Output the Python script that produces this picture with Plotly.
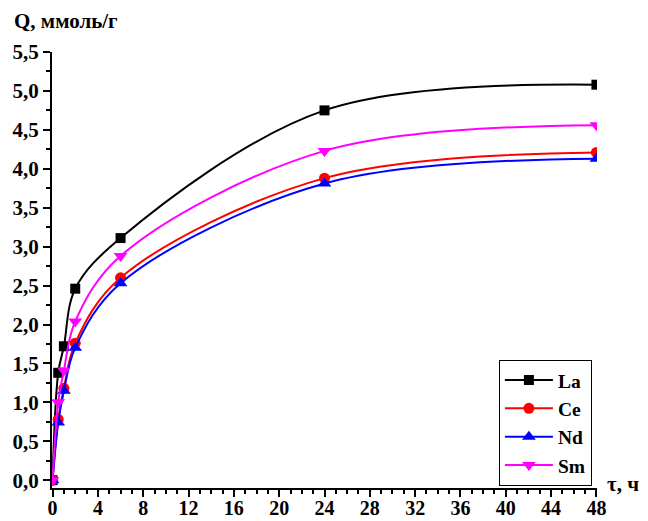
import plotly.graph_objects as go

t = [0, 0.5, 1, 2, 6, 24, 48]
la = [0.0, 1.38, 1.72, 2.46, 3.11, 4.75, 5.08]
ce = [0.0, 0.78, 1.18, 1.76, 2.60, 3.88, 4.21]
nd = [0.0, 0.74, 1.15, 1.70, 2.53, 3.81, 4.13]
sm = [0.0, 1.00, 1.41, 2.04, 2.88, 4.23, 4.56]

x_tickvals = [0, 4, 8, 12, 16, 20, 24, 28, 32, 36, 40, 44, 48]
x_ticktext = ["0", "4", "8", "12", "16", "20", "24", "28", "32", "36", "40", "44", "48"]
y_tickvals = [0.0, 0.5, 1.0, 1.5, 2.0, 2.5, 3.0, 3.5, 4.0, 4.5, 5.0, 5.5]
y_ticktext = ["0,0", "0,5", "1,0", "1,5", "2,0", "2,5", "3,0", "3,5", "4,0", "4,5", "5,0", "5,5"]

series = [
    ("La", la, "black", "square", 10),
    ("Ce", ce, "red", "circle", 11),
    ("Nd", nd, "blue", "triangle-up", 12),
    ("Sm", sm, "magenta", "triangle-down", 12),
]

FONT = "Liberation Serif"
FS = 21
fig = go.Figure()
for name, y, c, sym, sz in series:
    fig.add_trace(go.Scatter(
        x=t, y=y, name="<b>" + name + "</b>", mode="lines+markers",
        line=dict(color=c, width=2, shape="spline", smoothing=1.0),
        marker=dict(symbol=sym, size=sz, color=c),
    ))

fig.update_layout(
    width=648, height=521,
    margin=dict(l=52, r=51, t=52, b=33, autoexpand=False),
    paper_bgcolor="white", plot_bgcolor="white",
    font=dict(family=FONT, size=FS, color="black"),
    showlegend=True,
    legend=dict(
        x=0.820, y=0.294, xanchor="left", yanchor="top",
        bordercolor="black", borderwidth=1, bgcolor="white",
        font=dict(family=FONT, size=19.5, color="black"),
        itemwidth=48, tracegroupgap=0,
    ),
)
fig.update_xaxes(
    range=[-0.05, 48.05], tickmode="array", tickvals=x_tickvals,
    ticktext=["<b>" + s + "</b>" for s in x_ticktext], automargin=False,
    showline=True, linecolor="black", linewidth=2,
    ticks="outside", ticklen=7, tickwidth=2, tickcolor="black",
    minor=dict(dtick=1, tick0=0, ticks="outside", ticklen=4, tickwidth=1.5, tickcolor="black"),
    showgrid=False, zeroline=False, ticklabelstandoff=-6,
    tickfont=dict(family=FONT, size=20, color="black"),
)
fig.update_yaxes(
    range=[-0.10, 5.5], tickmode="array", tickvals=y_tickvals,
    ticktext=["<b>" + s + "</b>" for s in y_ticktext], automargin=False,
    showline=True, linecolor="black", linewidth=2,
    ticks="outside", ticklen=7, tickwidth=2, tickcolor="black",
    minor=dict(dtick=0.25, tick0=0, ticks="outside", ticklen=4, tickwidth=1.5, tickcolor="black"),
    showgrid=False, zeroline=False,
    tickfont=dict(family=FONT, size=FS, color="black"),
)
fig.add_annotation(text="<b>Q, ммоль/г</b>", xref="paper", yref="paper",
                   x=0, y=1.0, xshift=-40, yshift=31, xanchor="left", yanchor="middle",
                   showarrow=False, font=dict(family=FONT, size=FS, color="black"))
fig.add_annotation(text="<b>τ, ч</b>", xref="paper", yref="paper",
                   x=1.0, y=0.0, xshift=8, yshift=4, xanchor="left", yanchor="middle",
                   showarrow=False, font=dict(family=FONT, size=FS, color="black"))
fig.write_html("out.html")
